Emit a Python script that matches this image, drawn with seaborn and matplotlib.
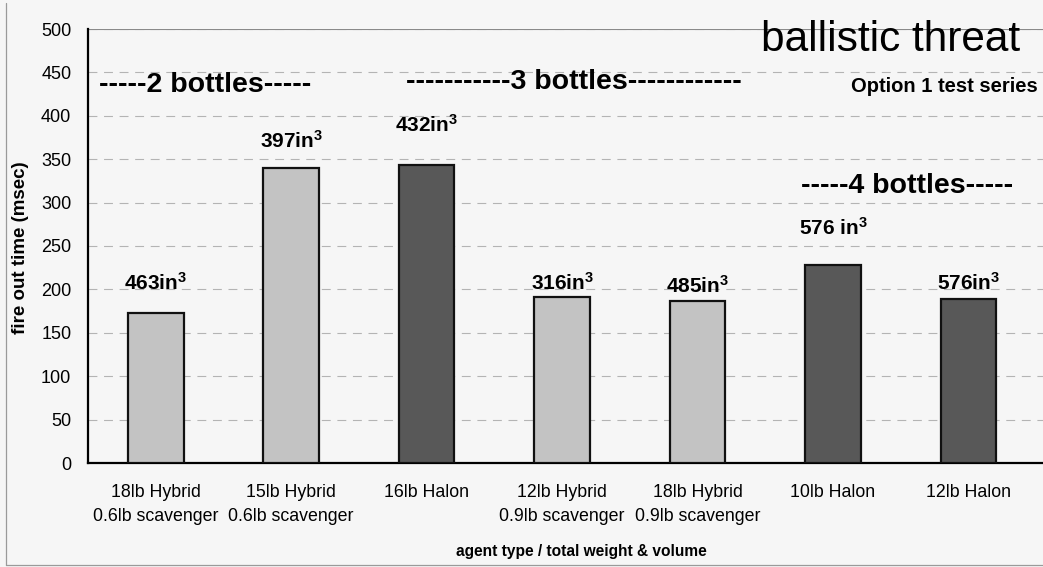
import matplotlib
matplotlib.use("Agg")
import matplotlib.pyplot as plt
from matplotlib.lines import Line2D
from matplotlib.ticker import MultipleLocator
import pandas as pd
import seaborn as sns

# agent configurations and measured fire-out times
agents = [
    "18lb Hybrid\n0.6lb scavenger",
    "15lb Hybrid\n0.6lb scavenger",
    "16lb Halon",
    "12lb Hybrid\n0.9lb scavenger",
    "18lb Hybrid\n0.9lb scavenger",
    "10lb Halon",
    "12lb Halon",
]
agent_kind = ["Hybrid", "Hybrid", "Halon", "Hybrid", "Hybrid", "Halon", "Halon"]
fire_out_msec = [173, 340, 343, 191, 187, 228, 189]
volume_labels = ["463in", "397in", "432in", "316in", "485in", "576 in", "576in"]

group_labels = ["-----2 bottles-----", "-----------3 bottles------------", "-----4 bottles-----"]

sns.set_style("white")
plt.rcParams["font.family"] = ["Liberation Sans", "DejaVu Sans"]
plt.rcParams["text.color"] = "black"
plt.rcParams["axes.labelcolor"] = "black"
plt.rcParams["xtick.color"] = "black"
plt.rcParams["ytick.color"] = "black"
plt.rcParams["mathtext.fontset"] = "custom"
plt.rcParams["mathtext.rm"] = "Liberation Sans:bold"
plt.rcParams["mathtext.bf"] = "Liberation Sans:bold"
plt.rcParams["mathtext.default"] = "rm"

W, H = 1043, 567
bg = "#f6f6f6"
fig = plt.figure(figsize=(W / 100, H / 100), dpi=100, facecolor=bg)
# page frame: left and bottom border lines
fig.add_artist(Line2D([6 / W, 6 / W], [2 / H, 1 - 3 / H], transform=fig.transFigure,
                      color="#9a9a9a", linewidth=0.9))
fig.add_artist(Line2D([6 / W, 1], [2 / H, 2 / H], transform=fig.transFigure,
                      color="#9a9a9a", linewidth=0.9))

ax = fig.add_axes([88 / W, 1 - 463 / H, (W - 88) / W, (463 - 29) / H])
ax.set_facecolor(bg)

df = pd.DataFrame({"agent": agents, "kind": agent_kind, "msec": fire_out_msec})
sns.barplot(data=df, x="agent", y="msec", hue="kind",
            palette={"Hybrid": "#c3c3c3", "Halon": "#585858"},
            dodge=False, width=0.41, edgecolor="#111111", linewidth=1.6,
            legend=False, ax=ax, zorder=3)

ax.set_ylim(0, 500)
ax.set_xlim(-0.5, len(agents) - 0.45)
ax.yaxis.set_major_locator(MultipleLocator(50))
ax.yaxis.set_minor_locator(MultipleLocator(10))
ax.yaxis.grid(True, which="major", linestyle=(0, (8, 6)), color="#b4b4b4", linewidth=0.8)
ax.set_axisbelow(True)

for side in ["top", "right"]:
    ax.spines[side].set_visible(False)
ax.spines["left"].set_linewidth(1.6)
ax.spines["bottom"].set_linewidth(1.6)
ax.spines["left"].set_color("black")
ax.spines["bottom"].set_color("black")
ax.axhline(500, color="#8a8a8a", linewidth=0.8, zorder=1)

ax.tick_params(axis="y", which="major", direction="inout", length=10, width=1.4,
               labelsize=13, pad=7)
ax.tick_params(axis="y", which="minor", direction="in", length=5, width=1.2)
ax.set_xticks(range(len(agents)))
ax.set_xticklabels(agents, fontsize=12.8, linespacing=1.55)
ax.tick_params(axis="x", which="major", length=0, pad=15)
# category boundary ticks on the x-axis
ax.set_xticks([i + 0.5 for i in range(len(agents) - 1)], minor=True)
ax.tick_params(axis="x", which="minor", direction="out", length=7, width=1.4)

ax.set_xlabel("agent type / total weight & volume", fontsize=11.2, fontweight="bold",
              labelpad=14, x=(581 - 88) / (W - 88))
ax.set_ylabel("fire out time (msec)", fontsize=13.5, fontweight="bold")
ax.yaxis.set_label_coords((29 - 88) / (W - 88), 0.497)

# volume annotations above each bar (baseline in data units)
label_base = [199, 363, 381, 200, 196, 263, 200]
for i, (lab, yv) in enumerate(zip(volume_labels, label_base)):
    ax.text(i, yv, lab + r"$^{3}$", ha="center", va="baseline",
            fontsize=15, fontweight="bold")

# bottle-count group headings
ax.text(-0.42, 435, group_labels[0], ha="left", va="center", fontsize=20.5, fontweight="bold")
ax.text(1.85, 439, group_labels[1], ha="left", va="center", fontsize=20.5, fontweight="bold")
ax.text(5.55, 319, group_labels[2], ha="center", va="center", fontsize=20.5, fontweight="bold")

ax.text((1038 - 88) / 135.5 - 0.5, 434, "Option 1 test series", ha="right", va="center",
        fontsize=14.5, fontweight="bold")
fig.text(1020 / W, 1 - 40 / H, "ballistic threat", ha="right", va="center", fontsize=30.5)

fig.savefig("out.png", dpi=100, facecolor=fig.get_facecolor())
